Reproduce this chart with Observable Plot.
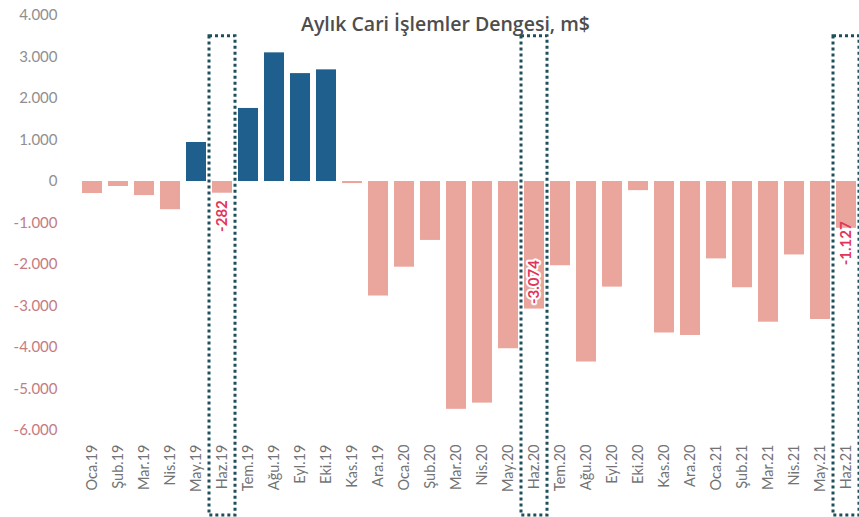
<!DOCTYPE html>
<html><head><meta charset="utf-8">
<script src="https://cdn.jsdelivr.net/npm/d3@7"></script>
<script src="https://cdn.jsdelivr.net/npm/@observablehq/plot@0.6"></script>
<style>body{margin:0;background:#fff}</style>
</head><body><div id="chart"></div>
<script>
const months = ["Oca.19","Şub.19","Mar.19","Nis.19","May.19","Haz.19","Tem.19","Ağu.19","Eyl.19","Eki.19","Kas.19","Ara.19",
  "Oca.20","Şub.20","Mar.20","Nis.20","May.20","Haz.20","Tem.20","Ağu.20","Eyl.20","Eki.20","Kas.20","Ara.20",
  "Oca.21","Şub.21","Mar.21","Nis.21","May.21","Haz.21"];
const values = [-290,-120,-340,-680,940,-282,1760,3100,2600,2690,-50,-2760,
  -2065,-1420,-5490,-5340,-4030,-3074,-2030,-4350,-2545,-220,-3650,-3710,
  -1865,-2560,-3390,-1770,-3325,-1127];
const yTicks = [4000,3000,2000,1000,0,-1000,-2000,-3000,-4000,-5000,-6000];
const title = "Aylık Cari İşlemler Dengesi, m$";
const highlights = ["Haz.19","Haz.20","Haz.21"];
const boxTop = 3500, boxBottom = -8050;

const data = months.map((m, i) => ({month: m, value: values[i]}));
const fmt = d => d3.format(",")(d).replace(/,/g, ".").replace("\u2212", "-");
const lab = m => { const i = months.indexOf(m); return {month: m, value: values[i], label: fmt(values[i])}; };

const chart = Plot.plot({
  width: 859, height: 517,
  marginTop: 15, marginBottom: 87, marginLeft: 79, marginRight: 0,
  style: {fontFamily: "Lato, sans-serif", background: "#fff", overflow: "visible"},
  color: {type: "identity"},
  x: {domain: months, paddingInner: 0.23, paddingOuter: 0.1, label: null},
  y: {domain: [-6000, 4000], axis: null},
  marks: [
    Plot.barY(data, {x: "month", y: "value", fill: d => d.value >= 0 ? "#1f5f8e" : "#eaa59c"}),
    Plot.text(yTicks, {y: d => d, text: fmt, frameAnchor: "left", textAnchor: "end", dx: -22, fontSize: 15,
      fill: d => d < 0 ? "#c47b82" : "#8f8f8f"}),
    Plot.axisX({tickRotate: -90, tickSize: 0, tickPadding: 14, fontSize: 14.5, fill: "#737373", label: null}),
    Plot.barY(highlights, {x: d => d, y1: boxTop, y2: boxBottom, fill: "none", stroke: "#1d4f5c",
      strokeWidth: 3, strokeDasharray: "3,3", insetLeft: -3, insetRight: -3}),
    Plot.text([lab("Haz.19")], {x: "month", y: "value", text: "label", rotate: -90, textAnchor: "end", dy: 7,
      fontSize: 15, fontWeight: "bold", fill: "#e2355b"}),
    Plot.text([lab("Haz.20")], {x: "month", y: "value", text: "label", rotate: -90, textAnchor: "start", dy: -5,
      fontSize: 15, fontWeight: "bold", fill: "#e2355b", stroke: "white", strokeWidth: 4}),
    Plot.text([lab("Haz.21")], {x: "month", y: "value", text: "label", rotate: -90, textAnchor: "start", dy: 37,
      fontSize: 15, fontWeight: "bold", fill: "#e2355b"}),
    Plot.text([title], {text: d => d, frameAnchor: "top", lineAnchor: "top", dy: 2, dx: -24, fontSize: 19.5,
      fontFamily: "'Open Sans', sans-serif", fontWeight: 600, fill: "#4d4d4d"})
  ]
});
document.getElementById("chart").appendChild(chart);
</script>
</body></html>
